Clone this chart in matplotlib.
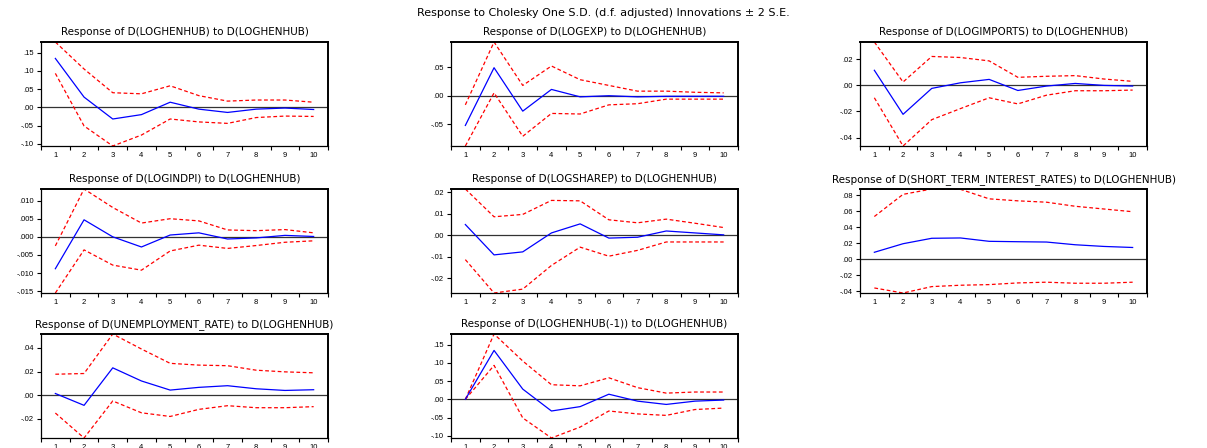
import matplotlib
matplotlib.use("Agg")
import matplotlib.pyplot as plt
from matplotlib.ticker import FuncFormatter, FixedLocator

plt.rcParams['font.family'] = ['Liberation Sans', 'DejaVu Sans']

periods = list(range(1, 11))

titles = [
    "Response of D(LOGHENHUB) to D(LOGHENHUB)",
    "Response of D(LOGEXP) to D(LOGHENHUB)",
    "Response of D(LOGIMPORTS) to D(LOGHENHUB)",
    "Response of D(LOGINDPI) to D(LOGHENHUB)",
    "Response of D(LOGSHAREP) to D(LOGHENHUB)",
    "Response of D(SHORT_TERM_INTEREST_RATES) to D(LOGHENHUB)",
    "Response of D(UNEMPLOYMENT_RATE) to D(LOGHENHUB)",
    "Response of D(LOGHENHUB(-1)) to D(LOGHENHUB)",
]

# impulse responses and +/- 2 S.E. bands
henhub_resp = [0.134, 0.028, -0.032, -0.020, 0.014, -0.005, -0.014, -0.005, -0.002, -0.006]
henhub_up = [0.179, 0.105, 0.040, 0.037, 0.059, 0.032, 0.017, 0.020, 0.020, 0.014]
henhub_lo = [0.093, -0.051, -0.106, -0.076, -0.032, -0.040, -0.044, -0.028, -0.024, -0.025]

exp_resp = [-0.052, 0.049, -0.027, 0.011, -0.002, 0.000, -0.002, -0.001, -0.001, -0.001]
exp_up = [-0.016, 0.094, 0.018, 0.052, 0.028, 0.018, 0.008, 0.008, 0.006, 0.005]
exp_lo = [-0.088, 0.005, -0.071, -0.031, -0.032, -0.016, -0.014, -0.006, -0.006, -0.006]

imports_resp = [0.0116, -0.0222, -0.0023, 0.0020, 0.0046, -0.0039, -0.0005, 0.0015, 0.0000, -0.0005]
imports_up = [0.0333, 0.0026, 0.0222, 0.0214, 0.0188, 0.0062, 0.0070, 0.0075, 0.0049, 0.0031]
imports_lo = [-0.0095, -0.0465, -0.0263, -0.0178, -0.0095, -0.0142, -0.0075, -0.0041, -0.0041, -0.0036]

indpi_resp = [-0.0088, 0.0047, 0.0000, -0.0028, 0.0005, 0.0011, -0.0006, -0.0003, 0.0004, 0.0001]
indpi_up = [-0.0025, 0.0132, 0.0081, 0.0038, 0.0050, 0.0044, 0.0019, 0.0017, 0.0020, 0.0011]
indpi_lo = [-0.0155, -0.0036, -0.0078, -0.0092, -0.0039, -0.0023, -0.0032, -0.0024, -0.0015, -0.0011]

sharep_resp = [0.0050, -0.0091, -0.0077, 0.0011, 0.0053, -0.0013, -0.0009, 0.0020, 0.0011, 0.0002]
sharep_up = [0.0215, 0.0086, 0.0097, 0.0162, 0.0160, 0.0072, 0.0058, 0.0075, 0.0056, 0.0036]
sharep_lo = [-0.0113, -0.0268, -0.0250, -0.0140, -0.0055, -0.0097, -0.0070, -0.0031, -0.0031, -0.0031]

rates_resp = [0.0089, 0.0196, 0.0264, 0.0268, 0.0226, 0.0221, 0.0217, 0.0183, 0.0162, 0.0149]
rates_up = [0.0536, 0.0813, 0.0880, 0.0876, 0.0757, 0.0732, 0.0715, 0.0664, 0.0630, 0.0596]
rates_lo = [-0.0357, -0.0420, -0.0340, -0.0323, -0.0315, -0.0294, -0.0285, -0.0298, -0.0298, -0.0285]

unemp_resp = [0.0014, -0.0086, 0.0231, 0.0120, 0.0043, 0.0066, 0.0080, 0.0054, 0.0040, 0.0046]
unemp_up = [0.0177, 0.0183, 0.0517, 0.0390, 0.0269, 0.0254, 0.0249, 0.0211, 0.0197, 0.0189]
unemp_lo = [-0.0151, -0.0362, -0.0049, -0.0149, -0.0180, -0.0120, -0.0089, -0.0106, -0.0106, -0.0097]

lag_resp = [0.000, 0.134, 0.028, -0.032, -0.020, 0.014, -0.005, -0.014, -0.005, -0.002]
lag_up = [0.000, 0.179, 0.105, 0.040, 0.037, 0.059, 0.032, 0.017, 0.020, 0.020]
lag_lo = [0.000, 0.093, -0.051, -0.106, -0.076, -0.032, -0.040, -0.044, -0.028, -0.024]

responses = [henhub_resp, exp_resp, imports_resp, indpi_resp, sharep_resp, rates_resp, unemp_resp, lag_resp]
upper = [henhub_up, exp_up, imports_up, indpi_up, sharep_up, rates_up, unemp_up, lag_up]
lower = [henhub_lo, exp_lo, imports_lo, indpi_lo, sharep_lo, rates_lo, unemp_lo, lag_lo]
ytick_step = [0.05, 0.05, 0.02, 0.005, 0.01, 0.02, 0.02, 0.05]
ytick_dec = [2, 2, 2, 3, 2, 2, 2, 2]

W, H = 1207, 448
fig = plt.figure(figsize=(W / 100, H / 100), dpi=100)
fig.text(0.5, 1 - 13 / H, "Response to Cholesky One S.D. (d.f. adjusted) Innovations \u00b1 2 S.E.",
         ha='center', va='center', fontsize=8, family='DejaVu Sans')

col_left = [41, 451, 860]
row_top = [42, 189, 334]
ax_w, ax_h = 287, 104


def fmt(dec):
    def f(v, pos):
        s = f"{v:.{dec}f}"
        if abs(v) < 10 ** (-dec - 1):
            s = f"{0:.{dec}f}"
        return s.replace("0.", ".", 1)
    return f


for i in range(8):
    r, c = divmod(i, 3)
    ax = fig.add_axes([col_left[c] / W, 1 - (row_top[r] + ax_h) / H, ax_w / W, ax_h / H])
    ax.plot(periods, upper[i], color='#ff0000', lw=0.9, ls=(0, (3, 2)))
    ax.plot(periods, lower[i], color='#ff0000', lw=0.9, ls=(0, (3, 2)))
    ax.plot(periods, responses[i], color='#0000ff', lw=0.9)
    ax.axhline(0, color='#333333', lw=0.9, zorder=0)
    ax.set_xlim(0.5, 10.5)
    ax.set_ylim(min(lower[i]), max(upper[i]))

    ax.set_xticks(periods)
    ax.set_xticklabels([str(p) for p in periods])
    ax.xaxis.set_minor_locator(FixedLocator([p + 0.5 for p in range(0, 11)]))
    ax.tick_params(axis='x', which='major', length=0, labelsize=5.5, pad=4)
    ax.tick_params(axis='x', which='minor', length=3, width=0.8, direction='out')

    step = ytick_step[i]
    lo, hi = ax.get_ylim()
    k0 = int(lo / step) - 1
    k1 = int(hi / step) + 1
    yt = [k * step for k in range(k0, k1 + 1) if lo - 1e-9 <= k * step <= hi + 1e-9]
    ax.set_yticks(yt)
    ax.yaxis.set_major_formatter(FuncFormatter(fmt(ytick_dec[i])))
    ax.tick_params(axis='y', length=3, width=0.8, direction='out', labelsize=5.5, pad=2)

    for sp in ax.spines.values():
        sp.set_linewidth(0.9)
        sp.set_color('black')
    ax.spines['right'].set_linewidth(1.4)
    ax.spines['top'].set_linewidth(1.4)

    ax.set_title(titles[i], fontsize=7.5, pad=5, family='DejaVu Sans')

fig.savefig("out.png", dpi=100)
